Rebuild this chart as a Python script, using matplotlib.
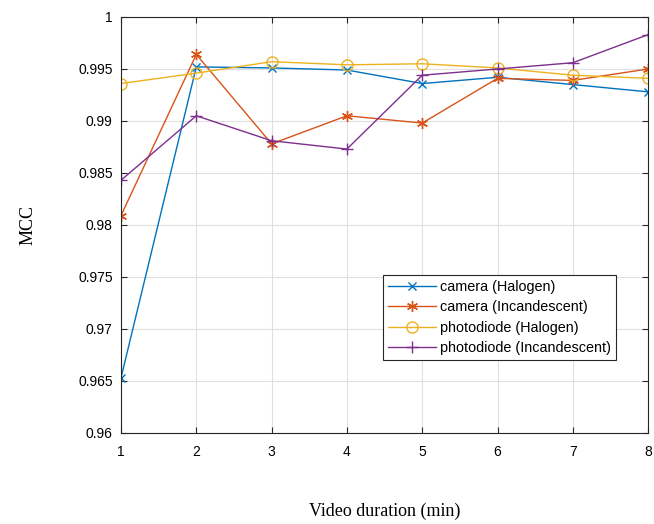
import numpy as np
import matplotlib
matplotlib.use('Agg')
from matplotlib import pyplot as plt

duration = [1, 2, 3, 4, 5, 6, 7, 8]
cam_halogen = [0.9653, 0.9952, 0.9951, 0.9949, 0.9936, 0.9942, 0.9935, 0.9928]
cam_incand = [0.9809, 0.9964, 0.9878, 0.9905, 0.9898, 0.9941, 0.9939, 0.9950]
pd_halogen = [0.9936, 0.9946, 0.9957, 0.9954, 0.9955, 0.9951, 0.9944, 0.9941]
pd_incand = [0.9843, 0.9905, 0.9881, 0.9873, 0.9944, 0.9950, 0.9956, 0.9983]

labels = ['camera (Halogen)', 'camera (Incandescent)',
          'photodiode (Halogen)', 'photodiode (Incandescent)']

plt.rcParams['font.family'] = ['Liberation Sans', 'DejaVu Sans']

fig = plt.figure(figsize=(6.54, 5.24), dpi=100)
ax = fig.add_axes([0.185, 0.1737, 0.806, 0.7939])

ax.plot(duration, cam_halogen, color='#0072BD', marker='x', ms=6, lw=1, mew=1, label=labels[0])
ax.plot(duration, cam_incand, color='#D95319', marker=(6, 2, 0), ms=8, lw=1, mew=1, label=labels[1])
ax.plot(duration, pd_halogen, color='#EDB120', marker='o', ms=8, lw=1, mew=1, mfc='none', label=labels[2])
ax.plot(duration, pd_incand, color='#7E2F8E', marker='+', ms=8, lw=1, mew=1, label=labels[3])

ax.set_xlim(1, 8)
ax.set_ylim(0.96, 1)
ax.set_xticks(duration)
ax.set_yticks(np.arange(0.96, 1.0001, 0.005))
ax.set_yticklabels(['0.96', '0.965', '0.97', '0.975', '0.98', '0.985', '0.99', '0.995', '1'])
ax.grid(True, color='#e0e0e0', lw=0.8)
ax.set_axisbelow(True)
ax.tick_params(direction='in', top=True, right=True, labelsize=10, length=4, color='#262626', pad=6)
ax.tick_params(axis='x', pad=9)
for s in ax.spines.values():
    s.set_color('#262626')
    s.set_linewidth(0.8)

ax.set_xlabel('Video duration (min)', family='Liberation Serif', fontsize=13, labelpad=31)
ax.set_ylabel('MCC', family='Liberation Serif', fontsize=13, labelpad=30)

leg = ax.legend(loc='lower left', bbox_to_anchor=(0.497, 0.175), borderaxespad=0, fontsize=10.4,
                fancybox=False, edgecolor='#262626', framealpha=1,
                borderpad=0.35, labelspacing=0.45, handlelength=3.3, handletextpad=0.3)
leg.get_frame().set_linewidth(0.8)

plt.savefig('out.png', dpi=100)
